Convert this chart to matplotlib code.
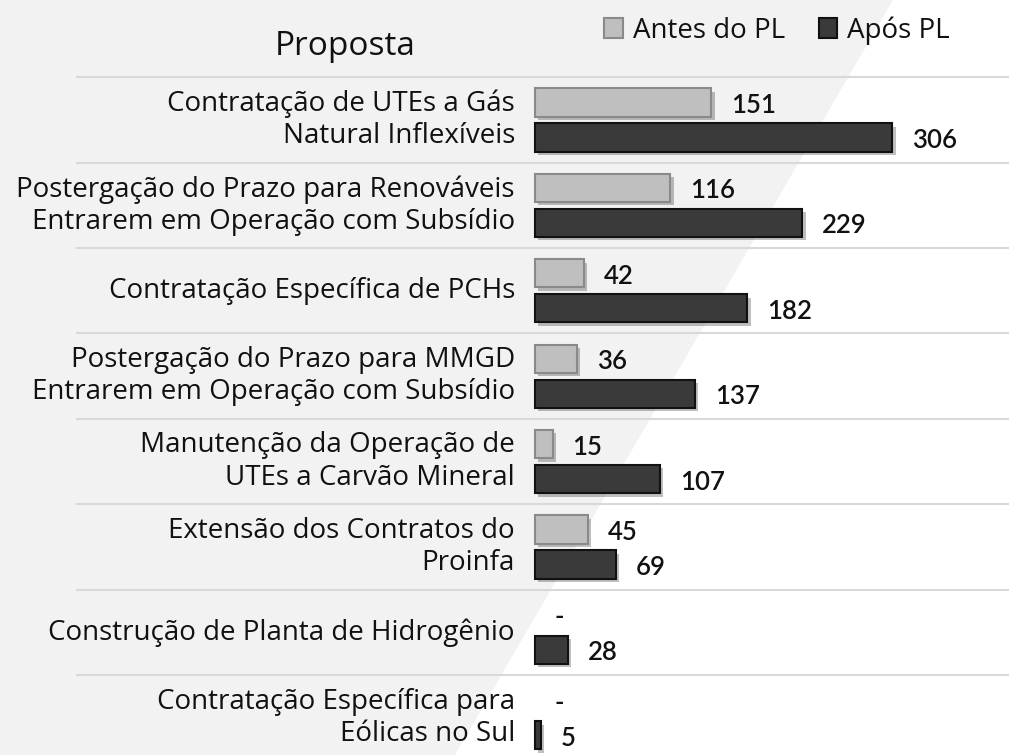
import matplotlib.pyplot as plt
import matplotlib.patheffects as pe
from matplotlib.patches import Polygon, Patch
import numpy as np

# propostas e valores (antes / apos o PL)
propostas = [
    "Contratação de UTEs a Gás\nNatural Inflexíveis",
    "Postergação do Prazo para Renováveis\nEntrarem em Operação com Subsídio",
    "Contratação Específica de PCHs",
    "Postergação do Prazo para MMGD\nEntrarem em Operação com Subsídio",
    "Manutenção da Operação de\nUTEs a Carvão Mineral",
    "Extensão dos Contratos do\nProinfa",
    "Construção de Planta de Hidrogênio",
    "Contratação Específica para\nEólicas no Sul",
]
antes = [151, 116, 42, 36, 15, 45, 0, 0]
apos = [306, 229, 182, 137, 107, 69, 28, 5]

W, H = 1009, 755
fig = plt.figure(figsize=(W / 100, H / 100), dpi=100)
fig.patch.set_facecolor("white")

# fundo cinza com corte diagonal
bg = fig.add_axes([0, 0, 1, 1])
bg.set_xlim(0, W)
bg.set_ylim(H, 0)
bg.axis("off")
bg.add_patch(Polygon([(0, 0), (893, 0), (455, H), (0, H)], closed=True,
                     facecolor="#f2f2f2", edgecolor="none"))

px = 1.167  # pixels por unidade
x0 = 535
step, c0 = 85.4, 120
ax = fig.add_axes([0, 0, 1, 1])
ax.patch.set_alpha(0)
ax.set_xlim(-x0 / px, (W - x0) / px)
ax.set_ylim((H - c0) / step, -c0 / step)
ax.axis("off")

y = np.arange(len(propostas))
h = 0.33
off = 0.205
shadow = [pe.SimplePatchShadow(offset=(2.5, -2.5), shadow_rgbFace="#000000", alpha=0.25), pe.Normal()]

b1 = ax.barh(y - off, antes, height=h, color="#bfbfbf", edgecolor="#8a8a8a", linewidth=1.5)
b2 = ax.barh(y + off, apos, height=h, color="#3a3a3a", edgecolor="#111111", linewidth=1.5)
for bars, vals in [(b1, antes), (b2, apos)]:
    for r, v in zip(bars, vals):
        if v > 0:
            r.set_path_effects(shadow)
        else:
            r.set_visible(False)
        r.set_zorder(3)

gap = 20 / px
dy = 3 / step
lab = dict(va="center", ha="left", fontsize=18.5, family="Lato", fontweight="semibold", color="#111111")
for i in range(len(propostas)):
    a = antes[i]
    ax.text(a + gap, i - off + dy, str(a) if a > 0 else "-", **lab)
    ax.text(apos[i] + gap, i + off + dy, str(apos[i]), **lab)
    ax.text(-20 / px, i, propostas[i], va="center", ha="right", fontsize=20,
            family="Open Sans", color="#111111", linespacing=1.2)

# linhas separadoras
ax.hlines(y - 0.5, -(x0 - 76) / px, (W - x0) / px, color="#d9d9d9", linewidth=1.5, zorder=1)

ax.text(-(x0 - 345) / px, (47 - c0) / step, "Proposta", ha="center", va="center",
        fontsize=24, family="Open Sans", color="#111111")

handles = [Patch(facecolor="#bfbfbf", edgecolor="#8a8a8a", linewidth=1.5, label="Antes do PL"),
           Patch(facecolor="#3a3a3a", edgecolor="#111111", linewidth=1.5, label="Após PL")]
leg = fig.legend(handles=handles, loc="upper left", bbox_to_anchor=(582 / W, 1 + 6 / H), ncol=2,
                 frameon=False, handlelength=0.68, handleheight=0.68, handletextpad=0.36,
                 columnspacing=1.2, borderpad=0.3, prop={"family": "Open Sans", "size": 20})
for t in leg.get_texts():
    t.set_color("#111111")

fig.savefig("out.png", dpi=100)
